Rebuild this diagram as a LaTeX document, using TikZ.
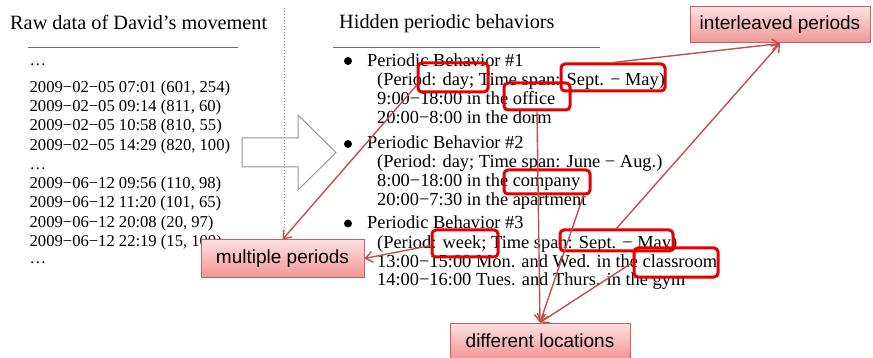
\documentclass[tikz,border=0pt]{standalone}
\usepackage{fontspec}
\setmainfont{Liberation Serif}
\newfontfamily\calloutfont{Liberation Sans}
\usetikzlibrary{arrows.meta,calc}
\definecolor{hlred}{RGB}{228,0,0}
\definecolor{linkred}{RGB}{192,80,77}
\definecolor{calloutborder}{RGB}{200,95,95}
\definecolor{callouttop}{RGB}{255,224,224}
\definecolor{calloutbottom}{RGB}{240,150,150}
\definecolor{shapegray}{RGB}{150,150,150}
\definecolor{rulegray}{RGB}{110,110,110}

\begin{document}
\begin{tikzpicture}[x=1pt,y=-1pt,
  rawline/.style={anchor=base west, inner sep=0pt, font=\fontsize{16.6}{19}\selectfont},
  behline/.style={anchor=base west, inner sep=0pt, font=\fontsize{18.4}{19}\selectfont},
  heading/.style={anchor=base west, inner sep=0pt, font=\fontsize{20.3}{24}\selectfont},
  bulletdot/.style={circle, fill=black, inner sep=0pt, minimum size=8pt},
  hlbox/.style={draw=hlred, line width=3pt, rounded corners=4pt, inner sep=0pt},
  callout/.style={draw=calloutborder, line width=1pt, top color=callouttop,
    bottom color=calloutbottom, inner sep=0pt,
    font=\calloutfont\fontsize{19}{22}\selectfont},
  link/.style={draw=linkred, line width=1.4pt, -{Straight Barb[length=7pt,width=11pt]}},
  rule/.style={draw=rulegray, line width=0.9pt},
]
\useasboundingbox (0,0) rectangle (873,358);

% ---------- left column: raw records ----------
\node[heading] (rawtitle) at (10,30) {Raw data of David’s movement};
\draw[rule] (28,47) -- (238,47);
\node[rawline] (rdots1) at (29.5,66) {…};
\node[rawline] (r1) at (29.5,92.5)  {2009−02−05 07:01 (601, 254)};
\node[rawline] (r2) at (29.5,111.75){2009−02−05 09:14 (811, 60)};
\node[rawline] (r3) at (29.5,131)   {2009−02−05 10:58 (810, 55)};
\node[rawline] (r4) at (29.5,150.25){2009−02−05 14:29 (820, 100)};
\node[rawline] (rdots2) at (29.5,169.5) {…};
\node[rawline] (r5) at (29.5,188.75){2009−06−12 09:56 (110, 98)};
\node[rawline] (r6) at (29.5,208)   {2009−06−12 11:20 (101, 65)};
\node[rawline] (r7) at (29.5,227.25){2009−06−12 20:08 (20, 97)};
\node[rawline] (r8) at (29.5,246.5) {2009−06−12 22:19 (15, 100)};
\node[rawline] (rdots3) at (29.5,264) {…};

% separator and hollow arrow
\draw[shapegray, line width=0.8pt, dash pattern=on 1pt off 2pt] (284,8) -- (284,240);
\draw[shapegray, line width=1pt] (242,138) -- (298,138) -- (298,115) -- (336,152.5)
  -- (298,190) -- (298,167) -- (242,167) -- cycle;

% ---------- right column: periodic behaviors ----------
\node[heading] (beh) at (339,29) {Hidden periodic behaviors};
\draw[rule] (333,47) -- (600,47);

\node[bulletdot] (b1) at (348,61) {};
\node[behline] (p1)  at (367,67)  {Periodic Behavior \#1};
\node[behline] (p1a) at (377,86)  {(Period: day; Time span: Sept. − May)};
\node[behline] (p1b) at (377,105) {9:00−18:00 in the office};
\node[behline] (p1c) at (377,124) {20:00−8:00 in the dorm};

\node[bulletdot] (b2) at (348,144) {};
\node[behline] (p2)  at (367,149) {Periodic Behavior \#2};
\node[behline] (p2a) at (377,168) {(Period: day; Time span: June − Aug.)};
\node[behline] (p2b) at (377,187) {8:00−18:00 in the company};
\node[behline] (p2c) at (377,206) {20:00−7:30 in the apartment};

\node[bulletdot] (b3) at (348,223.5) {};
\node[behline] (p3)  at (367,229) {Periodic Behavior \#3};
\node[behline] (p3a) at (377,248) {(Period: week; Time span: Sept. − May)};
\node[behline] (p3b) at (377,267) {13:00−15:00 Mon. and Wed. in the classroom};
\node[behline] (p3c) at (377,286) {14:00−16:00 Tues. and Thurs. in the gym};

% ---------- highlight frames ----------
\node[hlbox, minimum width=70pt,  minimum height=29pt] (hday)     at (453,77.5) {};
\node[hlbox, minimum width=104pt, minimum height=27pt] (hsept1)   at (613,77.5) {};
\node[hlbox, minimum width=66pt,  minimum height=27pt] (hoffice)  at (537,96.5) {};
\node[hlbox, minimum width=86pt,  minimum height=24pt] (hcompany) at (547,182) {};
\node[hlbox, minimum width=66pt,  minimum height=27pt] (hweek)    at (465,243.5) {};
\node[hlbox, minimum width=113pt, minimum height=21pt] (hsept3)   at (616.5,240.5) {};
\node[hlbox, minimum width=84pt,  minimum height=29pt] (hclass)   at (676,262.5) {};

% ---------- callouts ----------
\node[callout, minimum width=180pt, minimum height=36pt] (il) at (780,25) {interleaved periods};
\node[callout, minimum width=163pt, minimum height=37pt] (mp) at (282.5,258.5) {multiple periods};
\node[callout, minimum width=180pt, minimum height=36pt] (dl) at (540,341) {different locations};

% ---------- links ----------
\draw[link] ($(hday.south west)+(0,-8)$) -- (mp.north);
\draw[link] ($(hweek.west)+(0,2)$) -- (mp.east);
\draw[link] (hsept1.north) -- (il.south);
\draw[link] (hsept3.north) -- (il.south);
\draw[link] (hoffice.south) -- (dl.north);
\draw[link] ($(hcompany.south east)+(-8,0)$) -- (dl.north);
\draw[link] (hclass.west) -- (dl.north);
\end{tikzpicture}
\end{document}
